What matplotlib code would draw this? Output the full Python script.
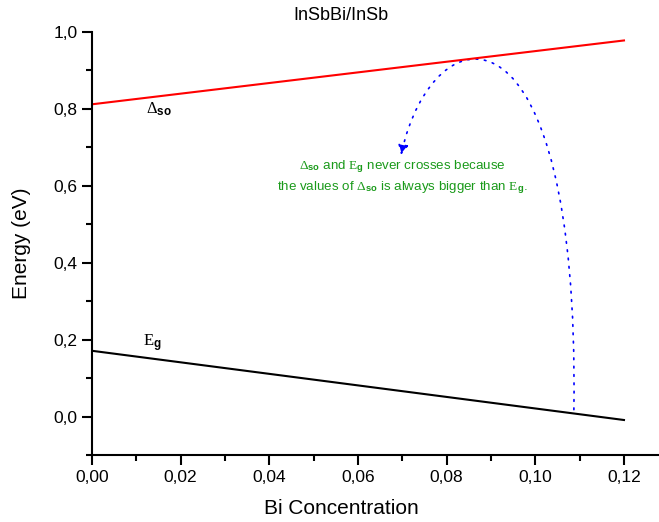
import matplotlib
matplotlib.use("Agg")
import matplotlib.pyplot as plt
from matplotlib.path import Path
from matplotlib.patches import FancyArrowPatch
from matplotlib.ticker import MultipleLocator, FuncFormatter

bi_conc = [0.0, 0.12]
delta_so = [0.812, 0.978]
e_gap = [0.171, -0.009]

plt.rcParams['font.family'] = ['Liberation Sans', 'DejaVu Sans']
plt.rcParams['mathtext.fontset'] = 'custom'
plt.rcParams['mathtext.rm'] = 'Liberation Serif'
plt.rcParams['mathtext.it'] = 'Liberation Serif'
plt.rcParams['mathtext.bf'] = 'Liberation Sans:bold'

fig = plt.figure(figsize=(6.59, 5.22), dpi=100)
ax = fig.add_axes([92/659, 1 - 455/522, 1 - 92/659, (455 - 32)/522])

ax.plot(bi_conc, delta_so, color='red', lw=1.5)
ax.plot(bi_conc, e_gap, color='black', lw=1.5)

ax.set_xlim(0, 0.1279)
ax.set_ylim(-0.1, 1.0)
for s in ['top', 'right']:
    ax.spines[s].set_visible(False)
for s in ['left', 'bottom']:
    ax.spines[s].set_linewidth(1.5)

ax.xaxis.set_major_locator(MultipleLocator(0.02))
ax.xaxis.set_minor_locator(MultipleLocator(0.01))
ax.yaxis.set_major_locator(MultipleLocator(0.2))
ax.yaxis.set_minor_locator(MultipleLocator(0.1))
ax.xaxis.set_major_formatter(FuncFormatter(lambda v, p: f"{v:.2f}".replace('.', ',')))
ax.yaxis.set_major_formatter(FuncFormatter(lambda v, p: f"{v:.1f}".replace('.', ',').replace('-0,0', '0,0')))
ax.tick_params(which='major', direction='out', length=7, width=1.5, labelsize=12.5)
ax.tick_params(which='minor', direction='out', length=4, width=1.5)

fig.text(341/659, 1 - 16/522, 'InSbBi/InSb', ha='center', va='center', fontsize=13)
fig.text(341/659, 1 - 508/522, 'Bi Concentration', ha='center', va='center', fontsize=15)
fig.text(22/659, 1 - 243/522, 'Energy (eV)', ha='center', va='center', fontsize=15, rotation=90)

ax.text(0.0122, 0.80, r'$\mathrm{\Delta}_{\mathbf{so}}$', fontsize=12, va='center')
ax.text(0.0115, 0.19, r'$\mathrm{E}_{\mathbf{g}}$', fontsize=12, va='center')

green = '#1a9a1a'
ax.text(0.0701, 0.649, r'$\mathrm{\Delta}_{\mathbf{so}}$ and $\mathrm{E}_{\mathbf{g}}$ never crosses because',
        color=green, fontsize=9.6, ha='center', va='center')
ax.text(0.0701, 0.595, r'the values of $\mathrm{\Delta}_{\mathbf{so}}$ is always bigger than $\mathrm{E}_{\mathbf{g}}$.',
        color=green, fontsize=9.6, ha='center', va='center')

verts = [(0.1087, 0.018), (0.1100, 1.12), (0.0770, 1.06), (0.0697, 0.68)]
path = Path(verts, [Path.MOVETO, Path.CURVE4, Path.CURVE4, Path.CURVE4])
arrow = FancyArrowPatch(path=path, arrowstyle='-|>,head_length=6,head_width=3',
                        color='blue', lw=1.2, linestyle=(0, (1, 4)))
ax.add_patch(arrow)

fig.savefig('out.png', dpi=100)
